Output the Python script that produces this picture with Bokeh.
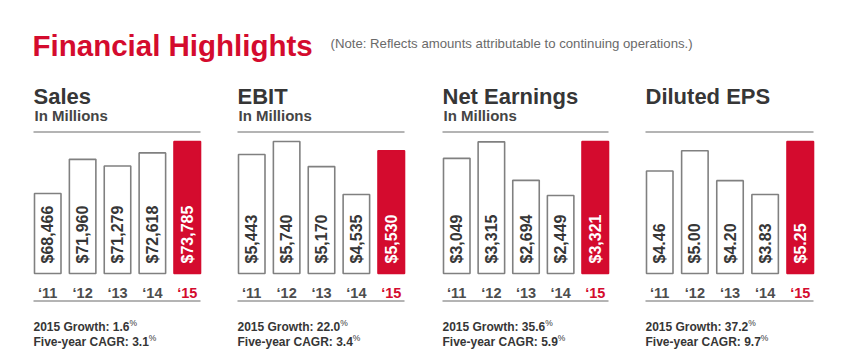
import math
from bokeh.plotting import figure
from bokeh.models import Range1d
from bokeh.embed import file_html
from bokeh.resources import INLINE
from bokeh.core.properties import value

# ---- data -------------------------------------------------------------
years = ["\u201811", "\u201812", "\u201813", "\u201814", "\u201815"]
sales = [68466, 71960, 71279, 72618, 73785]
ebit = [5443, 5740, 5170, 4535, 5530]
net_earnings = [3049, 3315, 2694, 2449, 3321]
diluted_eps = [4.46, 5.00, 4.20, 3.83, 5.25]

titles = ["Sales", "EBIT", "Net Earnings", "Diluted EPS"]
subtitles = ["In Millions", "In Millions", "In Millions", ""]
growth_2015 = [1.6, 22.0, 35.6, 37.2]
cagr_5yr = [3.1, 3.4, 5.9, 9.7]

series = [sales, ebit, net_earnings, diluted_eps]
label_formats = ["${:,.0f}", "${:,.0f}", "${:,.0f}", "${:.2f}"]

# truncated value axes: the value sitting on each panel's bar baseline
axis_floor = [60300, 2740, 1190, 1.71]

# ---- styling / layout -------------------------------------------------
W, H = 848, 363
RED = "#D40B2E"
DARK = "#363636"
GRAY_LINE = "#9b9b9b"
BAR_EDGE = "#808080"
FONT = value("Liberation Sans")

panel_left = [34, 238, 443, 646]
panel_right = [200, 404, 608, 813]
bar_px = 26.5
base_px, top_px = 273, 141

# Arial/Liberation Sans Bold advance widths (per 1000 em) for placing the % sign
BOLD_W = {ch: 556 for ch in "0123456789"}
BOLD_W.update({" ": 278, ".": 278, ":": 333, "-": 333, "G": 778, "r": 389,
               "o": 611, "w": 778, "t": 333, "h": 611, "F": 611, "i": 278,
               "v": 556, "e": 556, "y": 556, "a": 556, "C": 722, "A": 722,
               "R": 722})


def bold_width(s, size):
    return sum(BOLD_W.get(ch, 556) for ch in s) / 1000.0 * size


p = figure(width=W, height=H, x_range=Range1d(0, W), y_range=Range1d(H, 0),
           output_backend="svg", toolbar_location=None,
           x_axis_location=None, y_axis_location=None, min_border=0)
p.grid.visible = False
p.outline_line_color = None
p.background_fill_color = "white"
p.border_fill_color = "white"

# header
p.text(x=[32], y=[45], text=["Financial Highlights"], text_font=FONT,
       text_font_style="bold", text_font_size="29.5px", text_color=RED,
       text_baseline="alphabetic")
p.text(x=[330], y=[43],
       text=["(Note: Reflects amounts attributable to continuing operations.)"],
       text_font=FONT, text_font_size="13.2px", text_color="#6a6a6a",
       text_baseline="alphabetic")

n = len(years)
idx = list(range(n))
for k, vals in enumerate(series):
    L, R = panel_left[k], panel_right[k]
    step = (R - L - bar_px) / (n - 1)
    x0 = L + bar_px / 2
    xname, yname = f"x{k}", f"y{k}"
    p.extra_x_ranges[xname] = Range1d(-x0 / step, -x0 / step + W / step)
    floor = axis_floor[k]
    per_px = (max(vals) - floor) / (base_px - top_px)
    p.extra_y_ranges[yname] = Range1d(floor - (H - base_px) * per_px,
                                      floor + base_px * per_px)

    fills = ["white"] * (n - 1) + [RED]
    edges = [BAR_EDGE] * (n - 1) + [RED]
    p.vbar(x=idx, top=vals, bottom=floor, width=bar_px / step,
           fill_color=fills, line_color=edges, line_width=1.6,
           x_range_name=xname, y_range_name=yname)

    # rotated value labels inside the bars
    p.text(x=idx, y=[263] * n, text=[label_formats[k].format(v) for v in vals],
           angle=math.pi / 2, text_align="left", text_baseline="middle",
           text_font=FONT, text_font_style="bold", text_font_size="16px",
           text_color=[DARK] * (n - 1) + ["white"],
           x_range_name=xname)

    # year labels
    p.text(x=idx, y=[292] * n, text=years, text_align="center",
           text_baseline="alphabetic", text_font=FONT, text_font_style="bold",
           text_font_size="14.5px", text_color=["#4d4d4d"] * (n - 1) + [RED],
           x_range_name=xname)

    # rules above and below the bars
    p.segment(x0=[L - 1, L - 1], x1=[R, R], y0=[131.5, 300.5], y1=[131.5, 300.5],
              line_color=GRAY_LINE, line_width=1.5)

    # panel title
    p.text(x=[L - 1], y=[96], text=[titles[k]], text_font=FONT,
           text_font_style="bold", text_font_size="22px", text_color=DARK,
           text_baseline="alphabetic")
    if subtitles[k]:
        p.text(x=[L], y=[115], text=[subtitles[k]], text_font=FONT,
               text_font_style="bold", text_font_size="15px",
               text_color="#454545", text_baseline="alphabetic")

    # growth footnotes with superscript percent signs
    lines = [f"2015 Growth: {growth_2015[k]:.1f}", f"Five-year CAGR: {cagr_5yr[k]:.1f}"]
    for s, base in zip(lines, [326, 341]):
        p.text(x=[L - 1], y=[base], text=[s], text_font=FONT,
               text_font_style="bold", text_font_size="12px", text_color=DARK,
               text_baseline="alphabetic")
        p.text(x=[L - 1 + bold_width(s, 12)], y=[base - 4], text=["%"],
               text_font=FONT, text_font_size="8.5px", text_color=DARK,
               text_baseline="alphabetic")

open("out.html", "w").write(file_html(p, INLINE))
